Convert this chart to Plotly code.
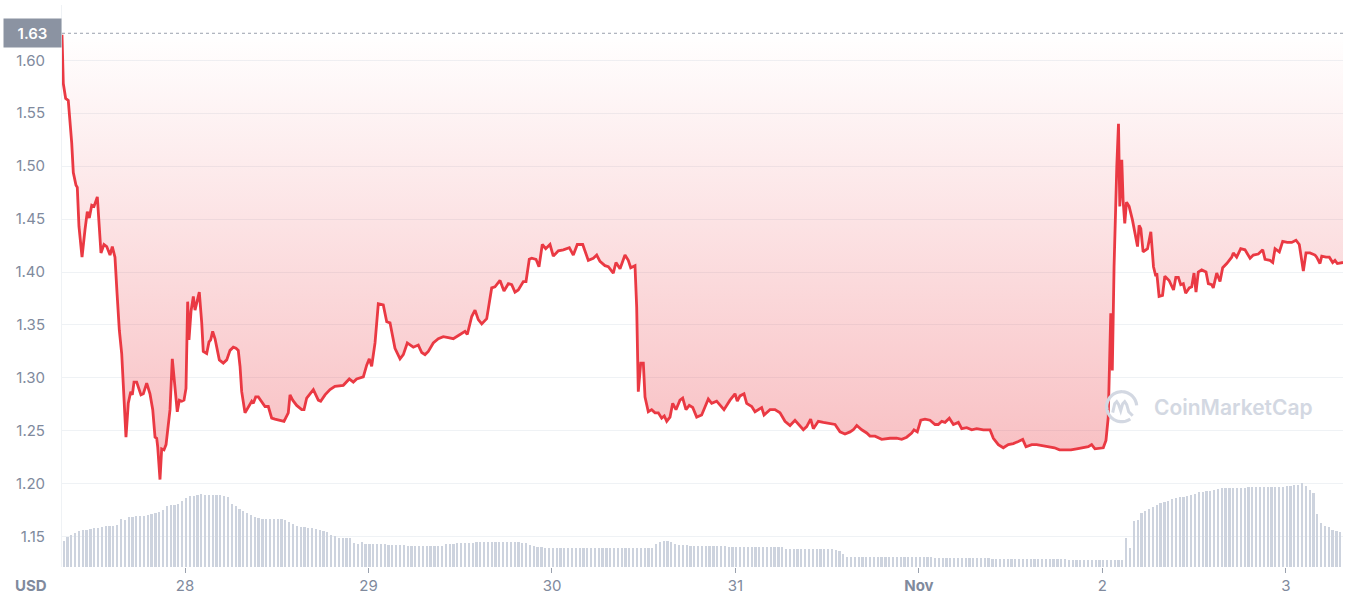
import numpy as np
import pandas as pd
import plotly.graph_objects as go

# ---------------- data ----------------
START = pd.Timestamp("2021-10-27 07:54")
RANGE_HOURS = 167.58
OPEN_PRICE = 1.6255
OPEN_LABEL = "1.63"

price_hours = [
    0.00, 0.17, 0.48, 0.82, 1.27, 1.48, 1.83, 2.00, 2.22, 2.62, 3.01, 3.31, 3.57, 3.89, 4.19, 4.62,
    5.10, 5.49, 5.85, 6.28, 6.58, 6.93, 7.20, 7.50, 7.81, 8.02, 8.37, 8.67, 8.99, 9.20, 9.42, 9.77,
    10.33, 10.64, 11.08, 11.51, 11.87, 12.17, 12.39, 12.52, 12.82, 13.04, 13.34, 13.61, 14.13, 14.43,
    14.78, 15.08, 15.35, 15.66, 15.96, 16.22, 16.44, 16.61, 16.88, 17.18, 17.40, 17.70, 17.96, 18.28,
    18.48, 18.93, 19.23, 19.45, 19.71, 20.02, 20.32, 20.58, 21.10, 21.55, 21.98, 22.41, 22.76, 23.06,
    23.29, 23.51, 23.94, 24.37, 24.82, 25.03, 25.34, 25.68, 26.12, 26.56, 26.99, 27.43, 27.86, 28.52,
    29.04, 29.60, 29.83, 30.18, 30.70, 31.36, 31.66, 32.01, 32.88, 33.53, 33.84, 34.41, 35.06, 35.71,
    36.80, 37.58, 38.11, 38.55, 39.42, 39.86, 40.20, 40.51, 40.95, 41.38, 42.03, 42.48, 42.91, 43.56,
    44.22, 44.65, 45.17, 45.96, 46.61, 47.06, 47.49, 47.92, 48.57, 49.23, 49.88, 50.54, 51.19, 52.07,
    52.72, 53.02, 53.60, 54.03, 54.46, 54.91, 55.56, 56.21, 56.64, 57.30, 57.82, 58.39, 58.83, 59.26,
    59.69, 60.35, 60.70, 61.13, 61.45, 62.01, 62.40, 62.83, 63.28, 63.84, 64.27, 64.93, 65.58, 66.37,
    66.89, 67.41, 68.12, 68.85, 69.50, 69.95, 70.38, 71.03, 71.47, 72.12, 72.47, 73.00, 73.65, 74.08,
    74.40, 74.96, 75.18, 75.39, 75.71, 76.05, 76.27, 76.70, 77.14, 77.58, 78.01, 78.45, 78.79, 79.11,
    79.54, 79.89, 80.32, 80.84, 81.20, 81.63, 82.06, 82.51, 83.03, 83.68, 84.55, 84.99, 85.64, 86.60,
    87.39, 88.04, 88.34, 88.70, 89.22, 89.57, 90.23, 90.66, 91.09, 91.53, 91.84, 92.62, 93.27, 93.93,
    94.58, 95.24, 95.89, 96.55, 96.98, 97.42, 97.94, 98.29, 98.94, 99.60, 100.47, 101.13, 101.78,
    102.43, 103.09, 103.52, 103.97, 104.62, 105.27, 105.70, 106.36, 107.23, 108.32, 109.19, 109.85,
    110.50, 111.16, 111.46, 111.89, 112.34, 112.90, 113.55, 114.21, 114.64, 115.09, 115.52, 116.08,
    116.61, 117.26, 117.70, 118.36, 119.01, 119.66, 120.53, 121.40, 121.84, 122.49, 123.14, 123.80,
    124.45, 125.11, 125.68, 126.11, 126.86, 127.51, 128.17, 128.82, 129.84, 130.49, 131.43, 131.99,
    132.74, 133.43, 134.26, 134.70, 135.13, 136.22, 136.57, 136.87, 137.20, 137.40, 137.63, 137.99,
    138.21, 138.38, 138.64, 138.81, 139.03, 139.26, 139.60, 140.04, 140.47, 140.70, 140.91, 141.13,
    141.43, 142.01, 142.44, 142.79, 143.09, 143.22, 143.52, 143.97, 144.27, 144.83, 145.41, 145.71,
    146.04, 146.35, 146.69, 147.00, 147.47, 147.79, 148.09, 148.35, 148.65, 149.09, 149.66, 149.96,
    150.40, 150.61, 151.06, 151.49, 151.84, 152.37, 153.02, 153.23, 153.67, 154.20, 154.76, 155.42,
    155.85, 156.50, 157.08, 157.38, 158.03, 158.39, 158.69, 159.25, 159.69, 160.29, 160.87, 161.43,
    161.86, 162.39, 162.74, 163.26, 163.92, 164.14, 164.57, 164.80, 165.36, 165.79, 166.23, 166.53,
    166.84, 167.28, 167.58,
]

price_usd = [
    1.624, 1.578, 1.564, 1.562, 1.522, 1.494, 1.482, 1.480, 1.443, 1.414, 1.440, 1.457, 1.451, 1.463, 1.462, 1.471,
    1.418, 1.426, 1.424, 1.416, 1.424, 1.414, 1.380, 1.345, 1.323, 1.289, 1.244, 1.276, 1.287, 1.284, 1.296, 1.296,
    1.284, 1.285, 1.295, 1.285, 1.270, 1.244, 1.243, 1.235, 1.204, 1.233, 1.232, 1.237, 1.270, 1.318,
    1.292, 1.268, 1.279, 1.278, 1.279, 1.290, 1.372, 1.336, 1.363, 1.377, 1.364, 1.374, 1.381, 1.352,
    1.325, 1.323, 1.334, 1.336, 1.344, 1.337, 1.326, 1.317, 1.314, 1.317, 1.326, 1.329, 1.328, 1.326,
    1.311, 1.287, 1.267, 1.273, 1.278, 1.276, 1.282, 1.282, 1.278, 1.273, 1.273, 1.262, 1.261, 1.260,
    1.259, 1.267, 1.284, 1.279, 1.274, 1.270, 1.270, 1.281, 1.289, 1.279, 1.278, 1.284, 1.289, 1.292,
    1.293, 1.299, 1.296, 1.299, 1.301, 1.312, 1.318, 1.311, 1.333, 1.370, 1.369, 1.353, 1.352, 1.328,
    1.318, 1.322, 1.333, 1.329, 1.331, 1.324, 1.322, 1.325, 1.333, 1.337, 1.339, 1.338, 1.337, 1.341,
    1.344, 1.341, 1.358, 1.364, 1.355, 1.351, 1.356, 1.385, 1.386, 1.392, 1.382, 1.389, 1.388, 1.381,
    1.383, 1.391, 1.391, 1.412, 1.413, 1.412, 1.405, 1.426, 1.422, 1.426, 1.415, 1.420, 1.421, 1.423,
    1.416, 1.426, 1.426, 1.411, 1.413, 1.416, 1.410, 1.406, 1.405, 1.399, 1.409, 1.403, 1.416, 1.411,
    1.404, 1.406, 1.367, 1.287, 1.314, 1.314, 1.282, 1.268, 1.270, 1.267, 1.267, 1.262, 1.264, 1.259,
    1.263, 1.276, 1.270, 1.279, 1.281, 1.270, 1.274, 1.272, 1.263, 1.265, 1.280, 1.276, 1.278, 1.270,
    1.279, 1.285, 1.278, 1.283, 1.285, 1.276, 1.273, 1.268, 1.270, 1.272, 1.265, 1.270, 1.270, 1.267,
    1.259, 1.255, 1.260, 1.255, 1.251, 1.254, 1.261, 1.252, 1.259, 1.258, 1.257, 1.256, 1.249,
    1.247, 1.249, 1.251, 1.255, 1.251, 1.248, 1.245, 1.245, 1.242, 1.243, 1.243, 1.242,
    1.244, 1.248, 1.251, 1.249, 1.260, 1.261, 1.260, 1.256, 1.256, 1.259, 1.258, 1.262,
    1.256, 1.258, 1.252, 1.253, 1.251, 1.252, 1.251, 1.251, 1.243, 1.237, 1.234, 1.237,
    1.238, 1.240, 1.242, 1.235, 1.237, 1.237, 1.236, 1.235, 1.234, 1.232, 1.232, 1.232,
    1.233, 1.234, 1.235, 1.237, 1.233, 1.234, 1.241, 1.263, 1.361, 1.307, 1.405, 1.500,
    1.540, 1.462, 1.506, 1.468, 1.446, 1.466, 1.462, 1.449, 1.433, 1.424, 1.444, 1.441,
    1.419, 1.422, 1.438, 1.405, 1.396, 1.399, 1.377, 1.378, 1.396, 1.392, 1.383, 1.395,
    1.395, 1.388, 1.389, 1.380, 1.385, 1.386, 1.399, 1.381, 1.400, 1.402, 1.400, 1.389,
    1.388, 1.385, 1.399, 1.391, 1.404, 1.408, 1.414, 1.418, 1.414, 1.422, 1.421, 1.413,
    1.416, 1.417, 1.421, 1.412, 1.411, 1.409, 1.422, 1.419, 1.429, 1.428, 1.428, 1.430,
    1.426, 1.401, 1.418, 1.418, 1.416, 1.414, 1.408, 1.415, 1.414, 1.414, 1.409, 1.411,
    1.408, 1.409, 1.409,
]

# 24h volume (millions USD), one bar every 30 minutes
volume_musd = [
    13.0, 15.2, 16.0, 16.8, 18.2, 18.3, 18.5, 18.8, 19.4, 19.4, 20.0, 20.3, 20.5, 20.5, 21.0, 24.0,
    23.5, 25.0, 25.2, 25.3, 25.5, 25.5, 26.2, 26.6, 27.0, 27.7, 28.7, 30.4, 31.0, 31.0, 31.7, 33.0,
    34.7, 35.3, 35.5, 36.2, 36.5, 35.8, 35.9, 36.0, 35.9, 35.8, 35.5, 35.0, 31.5, 30.3, 28.8, 28.0,
    27.0, 26.2, 25.2, 24.7, 24.2, 24.0, 24.0, 23.8, 24.2, 24.2, 23.5, 22.5, 21.3, 20.7, 20.2, 19.8,
    19.5, 19.3, 19.1, 18.7, 18.2, 17.5, 16.2, 15.5, 14.7, 14.3, 14.3, 14.3, 12.2, 11.7, 12.5, 11.7,
    11.3, 11.3, 11.3, 11.3, 11.3, 11.0, 10.8, 10.8, 10.8, 10.8, 10.5, 10.5, 10.5, 10.5, 10.5, 10.5,
    10.5, 10.5, 10.5, 10.5, 11.5, 11.7, 11.5, 12.1, 12.0, 11.9, 12.1, 12.2, 12.5, 12.5, 12.5, 12.5,
    12.5, 12.5, 12.5, 12.5, 12.5, 12.5, 12.7, 12.5, 12.0, 11.9, 11.0, 10.4, 10.0, 9.8, 9.6, 9.5,
    9.5, 9.5, 9.5, 9.5, 9.5, 9.5, 9.5, 9.5, 9.5, 9.4, 9.4, 9.4, 9.4, 9.4, 9.4, 9.4,
    9.4, 9.4, 9.4, 9.4, 9.4, 9.4, 9.4, 9.4, 9.4, 9.4, 9.4, 11.5, 12.5, 13.0, 13.0, 12.5,
    11.6, 11.2, 11.0, 10.8, 10.7, 10.6, 10.5, 10.5, 10.5, 10.5, 10.5, 10.5, 10.5, 10.5, 9.8, 9.8,
    9.8, 9.8, 9.8, 9.8, 9.8, 9.8, 9.8, 9.8, 9.8, 9.8, 9.8, 9.8, 9.8, 9.2, 9.2, 9.2,
    9.2, 9.2, 9.2, 9.2, 9.2, 9.2, 9.2, 9.2, 9.2, 9.2, 8.7, 7.8, 6.5, 5.2, 5.2, 5.2,
    5.2, 5.2, 5.2, 5.2, 5.2, 5.2, 5.2, 5.2, 5.2, 5.2, 5.2, 5.2, 5.2, 5.2, 5.2, 5.2,
    5.2, 5.2, 5.2, 5.2, 4.5, 4.5, 4.5, 4.5, 4.5, 4.5, 4.5, 4.5, 4.5, 4.5, 4.5, 4.5,
    4.5, 4.5, 4.5, 3.9, 3.9, 3.9, 3.9, 3.9, 3.9, 3.9, 3.9, 3.9, 3.9, 3.9, 3.9, 3.9,
    3.9, 3.9, 3.9, 3.9, 3.9, 3.9, 3.9, 3.5, 3.5, 3.5, 3.5, 3.5, 3.5, 3.5, 3.5, 3.5,
    3.5, 3.5, 3.5, 3.5, 3.5, 3.5, 14.3, 9.3, 23.0, 23.5, 26.8, 28.0, 29.0, 30.2, 31.0, 31.9,
    32.7, 33.2, 34.0, 34.5, 34.8, 35.1, 35.7, 36.2, 36.6, 37.3, 37.7, 37.9, 38.0, 38.5, 38.9, 39.4,
    39.6, 39.6, 39.6, 39.6, 39.6, 39.6, 40.1, 40.1, 40.1, 40.1, 40.1, 40.1, 40.1, 40.1, 40.1, 40.1,
    40.4, 40.5, 40.8, 41.0, 42.0, 40.7, 38.7, 36.9, 26.3, 22.2, 20.7, 19.8, 18.7, 18.1, 17.5, 16.7,
    15.8, 15.0, 14.2, 13.8,
]

tick_days = ["2021-10-28", "2021-10-29", "2021-10-30", "2021-10-31", "2021-11-01", "2021-11-02", "2021-11-03"]
tick_text = ["28", "29", "30", "31", "<b>Nov</b>", "2", "3"]
y_ticks = [1.15, 1.20, 1.25, 1.30, 1.35, 1.40, 1.45, 1.50, 1.55, 1.60]

# ---------------- styling ----------------
RED = "#ea3943"
GREY = "#808a9d"
GRID = "#eff2f5"
VOL = "#cdd3de"
FONT = "Inter"

price_x = START + pd.to_timedelta(price_hours, unit="h")
vol_x = START + pd.to_timedelta([0.25 + 0.5 * i for i in range(len(volume_musd))], unit="h")
x_end = START + pd.to_timedelta(RANGE_HOURS, unit="h")

fig = go.Figure()

# volume bars (secondary axis)
fig.add_trace(go.Bar(
    x=vol_x, y=volume_musd, yaxis="y2",
    marker=dict(color=VOL, line=dict(width=0)),
    width=0.45 * 30 * 60 * 1000,
    hoverinfo="skip", showlegend=False,
))

# baseline at the opening price (for the fill)
fig.add_trace(go.Scatter(
    x=[price_x[0], price_x[-1]], y=[OPEN_PRICE, OPEN_PRICE],
    mode="lines", line=dict(width=0, color="rgba(0,0,0,0)"),
    hoverinfo="skip", showlegend=False,
))

# price line with gradient fill up to opening price
fig.add_trace(go.Scatter(
    x=price_x, y=price_usd, mode="lines",
    line=dict(color=RED, width=2.8),
    fill="tonexty",
    fillgradient=dict(
        type="vertical",
        colorscale=[[0.0, "rgba(234,57,67,0.34)"], [1.0, "rgba(234,57,67,0.0)"]],
        start=1.20, stop=OPEN_PRICE,
    ),
    hoverinfo="skip", showlegend=False,
))

# dotted open-price line
fig.add_shape(type="line", xref="paper", yref="y", x0=0, x1=1, y0=OPEN_PRICE, y1=OPEN_PRICE,
              line=dict(color="#9aa1ae", width=1, dash="dot"), layer="above")

# open-price label box
fig.add_annotation(
    xref="paper", yref="y", x=0, y=OPEN_PRICE, xanchor="right", yanchor="middle",
    text=OPEN_LABEL, showarrow=False, bgcolor="#8b93a2", width=57, height=28, borderpad=0,
    font=dict(family=FONT, size=15, color="white", weight=600), align="center",
)

# USD label
fig.add_annotation(
    xref="paper", yref="paper", x=-0.024, y=0, yshift=-18, xanchor="center", yanchor="middle",
    text="<b>USD</b>", showarrow=False, font=dict(family=FONT, size=15, color=GREY),
)

# watermark: logo + text
cx, cy = 1121.7, 406.7   # pixel centre of logo (converted to paper below)
def to_paper(px, py):
    return (px - 62) / 1281, (567 - py) / 562
ang = np.linspace(np.radians(-55), np.radians(-55 - 300), 60)
r = 15.0
pts = [to_paper(cx + r * np.cos(a), cy - r * np.sin(a)) for a in ang]
arc = "M " + " L ".join(f"{x:.5f},{y:.5f}" for x, y in pts)
fig.add_shape(type="path", xref="paper", yref="paper", path=arc,
              line=dict(color="#d3d8e2", width=3.2), layer="above")
wave_px = [(-9, 6), (-7, -3), (-5, -5), (-3, -2), (-1, 4), (1, -3), (3, -5), (5, -2), (7, 5), (11, 9)]
wpts = [to_paper(cx + dx, cy + dy) for dx, dy in wave_px]
wave = "M " + " L ".join(f"{x:.5f},{y:.5f}" for x, y in wpts)
fig.add_shape(type="path", xref="paper", yref="paper", path=wave,
              line=dict(color="#d3d8e2", width=3.0), layer="above")
tx, ty = to_paper(1152, 407)
fig.add_annotation(xref="paper", yref="paper", x=tx, y=ty, xanchor="left", yanchor="middle",
                   text="CoinMarketCap", showarrow=False,
                   font=dict(family=FONT, size=21, color="#d3d8e2", weight=600))

fig.update_layout(
    width=1362, height=598,
    margin=dict(l=62, r=19, t=5, b=31, autoexpand=False),
    paper_bgcolor="white", plot_bgcolor="white",
    bargap=0,
    xaxis=dict(
        type="date", range=[START, x_end], automargin=False,
        tickvals=pd.to_datetime(tick_days), ticktext=tick_text,
        ticks="outside", ticklen=5, tickcolor="#9aa1ae", tickwidth=1,
        showgrid=False, showline=False, zeroline=False,
        tickfont=dict(family=FONT, size=15, color=GREY),
        fixedrange=True,
    ),
    yaxis=dict(
        range=[1.1214, 1.6522], tickvals=y_ticks, tickformat=".2f", automargin=False,
        showgrid=True, gridcolor=GRID, gridwidth=1,
        showline=True, linecolor=GRID, linewidth=1,
        zeroline=False, ticks="", ticklabelstandoff=13,
        tickfont=dict(family=FONT, size=15, color=GREY),
    ),
    yaxis2=dict(range=[0, 281], overlaying="y", visible=False, showgrid=False, automargin=False),
    showlegend=False,
)

fig.write_html(
    "out.html",
    config={"displayModeBar": False},
    post_script="document.body.style.margin='0';document.body.style.overflow='hidden';",
)
